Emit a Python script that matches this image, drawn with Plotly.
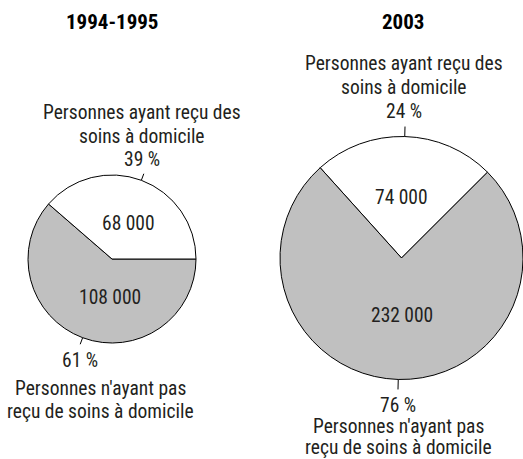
import math
import plotly.graph_objects as go

W, H = 523, 459

titles = ["1994-1995", "2003"]
label_top = ["Personnes ayant reçu des", "soins à domicile"]
label_bottom = ["Personnes n'ayant pas", "reçu de soins à domicile"]
values_1994 = [68000, 108000]
values_2003 = [74000, 232000]
pct_1994 = [39, 61]
pct_2003 = [24, 76]

colors = ["#ffffff", "#c0c0c0"]
TXT = "#231f20"
FONT = "Liberation Sans Narrow, Arial Narrow, Roboto Condensed, DejaVu Sans Condensed, sans-serif"
FS = 19.5

# pie geometry in pixels (layout only); slices drawn clockwise, grey first for the left pie
pies = [
    dict(title=titles[0], values=values_1994, pct=pct_1994, cx=112, cy=259, r=84,
         rotation=90, order=[1, 0], tick=7, title_x=112,
         inside=[(128, 223), (110, 297)],
         top=dict(x=142, y=[113, 136, 159]),
         bot=dict(x=[80, 100, 100], y=[360, 388, 411])),
    dict(title=titles[1], values=values_2003, pct=pct_2003, cx=401.5, cy=258, r=121.5,
         rotation=-42, order=[0, 1], tick=10, title_x=403,
         inside=[(402, 197), (402, 315)],
         top=dict(x=404, y=[64, 87, 112]),
         bot=dict(x=[398, 398, 398], y=[405, 426, 447])),
]


def px(x):
    return x / W


def py(y):
    return 1 - y / H


def fmt(v):
    return f"{v:,}".replace(",", " ")


fig = go.Figure()
shapes = []
annotations = []


def add_text(txt, x, y, size=FS, color=TXT):
    annotations.append(dict(text=txt, x=px(x), y=py(y), xref="paper", yref="paper",
                            showarrow=False, xanchor="center", yanchor="middle",
                            font=dict(family=FONT, size=size, color=color)))


for p in pies:
    cx, cy, r = p["cx"], p["cy"], p["r"]
    vals = [p["values"][i] for i in p["order"]]
    cols = [colors[i] for i in p["order"]]
    fig.add_trace(go.Pie(
        values=vals,
        textinfo="none",
        sort=False,
        direction="clockwise",
        rotation=p["rotation"],
        marker=dict(colors=cols, line=dict(color="#000000", width=1)),
        domain=dict(x=[px(cx - r), min(1, px(cx + r))], y=[py(cy + r), py(cy - r)]),
        hoverinfo="skip",
        showlegend=False,
    ))
    # tick marks at the mid angle of each slice
    total = sum(vals)
    cum = 0
    for v in vals:
        mid = math.radians(p["rotation"] + (cum + v / 2) / total * 360)
        cum += v
        x0, y0 = cx + r * math.sin(mid), cy - r * math.cos(mid)
        x1, y1 = cx + (r + p["tick"]) * math.sin(mid), cy - (r + p["tick"]) * math.cos(mid)
        shapes.append(dict(type="line", xref="paper", yref="paper",
                           x0=px(x0), y0=py(y0), x1=px(x1), y1=py(y1),
                           line=dict(color="#000000", width=1)))
    # title
    add_text(f"<b>{p['title']}</b>", p["title_x"], 22, size=21, color="#000000")
    # values inside the slices
    for v, (xx, yy) in zip(p["values"], p["inside"]):
        add_text(fmt(v), xx, yy)
    # top label
    for txt, yy in zip(label_top + [f"{p['pct'][0]} %"], p["top"]["y"]):
        add_text(txt, p["top"]["x"], yy)
    # bottom label
    for txt, xx, yy in zip([f"{p['pct'][1]} %"] + label_bottom, p["bot"]["x"], p["bot"]["y"]):
        add_text(txt, xx, yy)

fig.update_layout(
    width=W, height=H,
    margin=dict(l=0, r=0, t=0, b=0),
    paper_bgcolor="#ffffff", plot_bgcolor="#ffffff",
    shapes=shapes, annotations=annotations,
    showlegend=False,
)

fig.write_html("out.html", config={"displayModeBar": False},
               post_script="document.body.style.margin='0';")
